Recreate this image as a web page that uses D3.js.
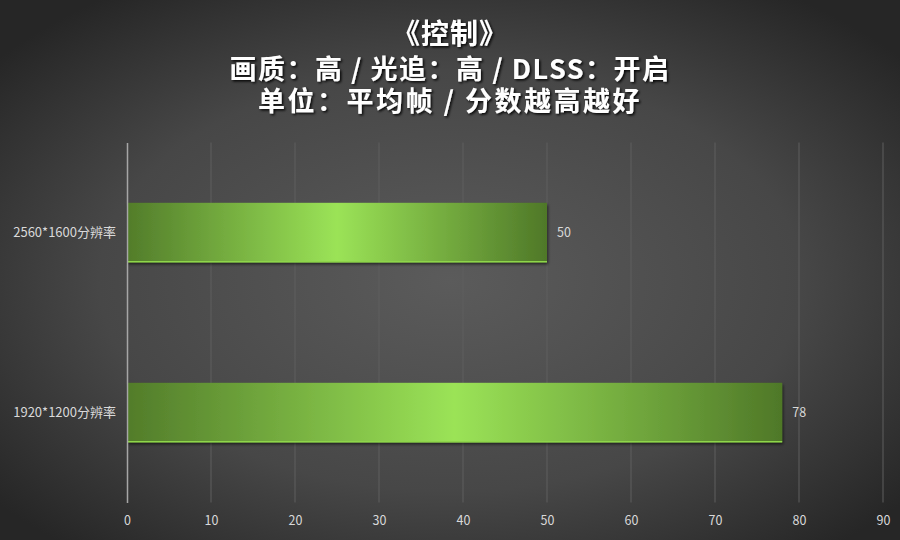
<!DOCTYPE html>
<html lang="zh">
<head>
<meta charset="UTF-8">
<title>控制</title>
<style>
    body { margin: 0; background: #333; }
    svg { display: block; }
    .title { font-family: "Noto Sans CJK SC", sans-serif; font-weight: bold; fill: #fff; }
    .lbl { font-family: "Noto Sans CJK SC", "Noto Sans", sans-serif; font-size: 12.5px; fill: #d9d9d9; }
    .cat { font-size: 13px; }
</style>
</head>
<body>
<svg id="chart"></svg>
<script src="https://d3js.org/d3.v7.min.js"></script>
<script>
var categories = ['2560*1600分辨率', '1920*1200分辨率']
var values = [50, 78]
var xTicks = [0, 10, 20, 30, 40, 50, 60, 70, 80, 90]
var titleLines = ['《控制》', '画质：高 / 光追：高 / DLSS：开启', '单位：平均帧 / 分数越高越好']

var W = 900, H = 540
var margin = {left: 127, right: 17, top: 142.5, bottom: 37.5}

var svg = d3.select('#chart').attr('width', W).attr('height', H)
var defs = svg.append('defs')

var bg = defs.append('radialGradient').attr('id', 'bg')
    .attr('cx', '50%').attr('cy', '52%').attr('r', '65%')
bg.append('stop').attr('offset', '0%').attr('stop-color', '#5b5b5b')
bg.append('stop').attr('offset', '60%').attr('stop-color', '#474747')
bg.append('stop').attr('offset', '100%').attr('stop-color', '#262626')

var bar = defs.append('linearGradient').attr('id', 'barGrad')
    .attr('x1', '0%').attr('x2', '100%').attr('y1', '0%').attr('y2', '0%')
bar.append('stop').attr('offset', '0%').attr('stop-color', '#527c2a')
bar.append('stop').attr('offset', '50%').attr('stop-color', '#9be357')
bar.append('stop').attr('offset', '100%').attr('stop-color', '#4f7828')

var sh = defs.append('filter').attr('id', 'shadow').attr('x', '-10%').attr('y', '-20%').attr('width', '120%').attr('height', '150%')
sh.append('feDropShadow').attr('dx', 1).attr('dy', 2).attr('stdDeviation', 1.5)
    .attr('flood-color', '#000').attr('flood-opacity', 0.6)

var tsh = defs.append('filter').attr('id', 'tshadow')
tsh.append('feDropShadow').attr('dx', 1.5).attr('dy', 1.5).attr('stdDeviation', 0.8)
    .attr('flood-color', '#000').attr('flood-opacity', 0.9)

svg.append('rect').attr('width', W).attr('height', H).attr('fill', 'url(#bg)')

// titles: one text block, one tspan per line
var tSizes = [28, 27, 27], tY = [44, 79, 111], tSpace = [1, 1.5, 2.5]
var title = svg.append('text').attr('class', 'title')
    .attr('text-anchor', 'middle')
    .attr('filter', 'url(#tshadow)')
title.selectAll('tspan').data(titleLines).enter().append('tspan')
    .attr('x', W / 2)
    .attr('y', function (d, i) { return tY[i] })
    .attr('font-size', function (d, i) { return tSizes[i] })
    .attr('letter-spacing', function (d, i) { return tSpace[i] })
    .text(function (d) { return d })

var x = d3.scaleLinear().domain([0, 90]).range([margin.left, W - margin.right])
var y = d3.scaleBand().domain(categories).range([margin.top, H - margin.bottom])
    .paddingInner(0.67).paddingOuter(0.335)

// grid
svg.append('g').selectAll('line').data(xTicks.slice(1)).enter().append('line')
    .attr('x1', function (d) { return x(d) }).attr('x2', function (d) { return x(d) })
    .attr('y1', margin.top).attr('y2', H - margin.bottom)
    .attr('stroke', '#5e5e5e').attr('stroke-width', 1)

// x tick labels
var xAxis = svg.append('g').attr('transform', 'translate(0,' + (H - margin.bottom) + ')')
    .call(d3.axisBottom(x).tickValues(xTicks).tickSize(0).tickPadding(14))
xAxis.select('.domain').remove()
xAxis.selectAll('text').attr('class', 'lbl').attr('font-size', null).attr('font-family', null)

// bars
var bars = svg.append('g').selectAll('g').data(values).enter().append('g')
bars.append('rect')
    .attr('x', x(0))
    .attr('y', function (d, i) { return y(categories[i]) })
    .attr('width', function (d) { return x(d) - x(0) })
    .attr('height', y.bandwidth())
    .attr('fill', 'url(#barGrad)')
    .attr('filter', 'url(#shadow)')
bars.append('line')
    .attr('x1', x(0))
    .attr('x2', function (d) { return x(d) })
    .attr('y1', function (d, i) { return y(categories[i]) + y.bandwidth() - 0.5 })
    .attr('y2', function (d, i) { return y(categories[i]) + y.bandwidth() - 0.5 })
    .attr('stroke', '#8ed64a').attr('stroke-width', 1.5)

// value labels
bars.append('text').attr('class', 'lbl')
    .attr('x', function (d) { return x(d) + 10 })
    .attr('y', function (d, i) { return y(categories[i]) + y.bandwidth() / 2 })
    .attr('dy', '0.35em')
    .text(function (d) { return d })

// y axis
var yAxis = svg.append('g').attr('transform', 'translate(' + margin.left + ',0)')
    .call(d3.axisLeft(y).tickSize(0).tickPadding(11))
yAxis.select('.domain').attr('stroke', '#a6a6a6').attr('stroke-width', 1.5)
yAxis.selectAll('text').attr('class', 'lbl cat').attr('font-size', null).attr('font-family', null)
</script>
</body>
</html>
